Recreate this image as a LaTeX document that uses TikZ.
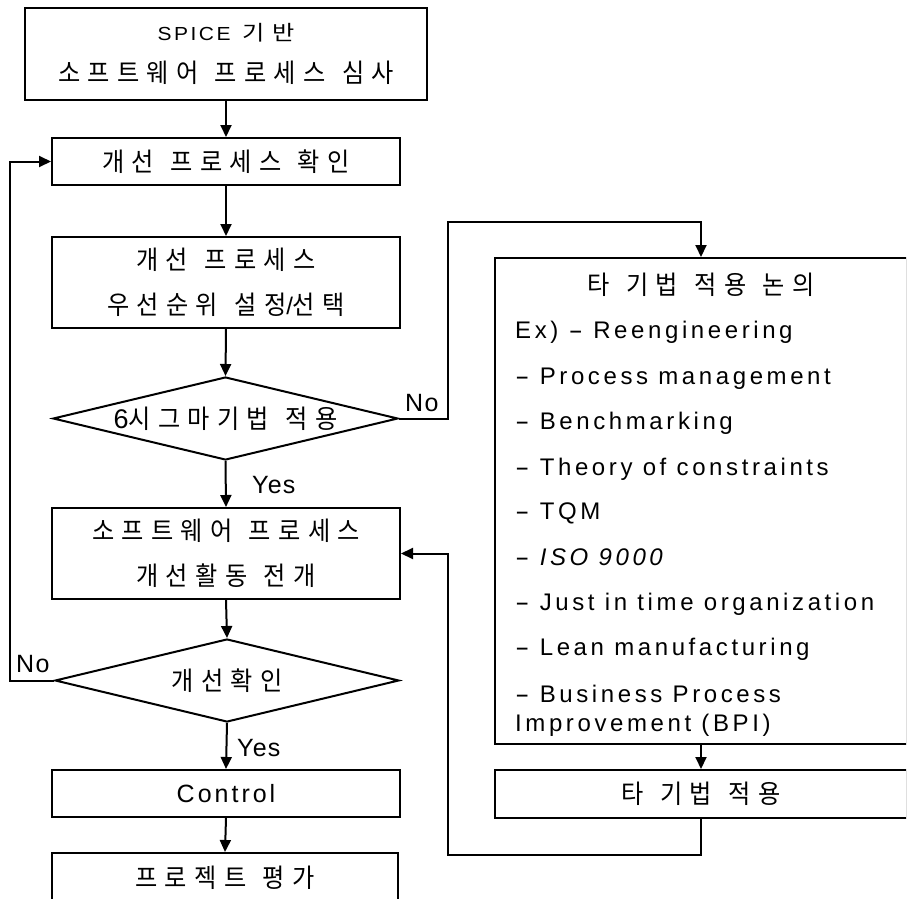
\documentclass[tikz,border=0pt]{standalone}
\usepackage{fontspec}
\usepackage{graphicx}
\usetikzlibrary{shapes.geometric,arrows.meta}
\setmainfont{Liberation Sans}[LetterSpace=12]
\newfontfamily\kor{Noto Sans CJK KR}[LetterSpace=28,FakeStretch=0.93,WordSpace=1.3]
\newfontfamily\latf{Liberation Sans}[LetterSpace=12]
\newfontfamily\latw{Liberation Sans}[LetterSpace=15]
\newfontfamily\labf{Liberation Sans}[LetterSpace=5]
\newcommand\dsh{\scalebox{1.8}[1]{-}}
\tikzset{
 ln/.style={line width=2pt},
 arr/.style={ln, -{Triangle[length=12pt,width=11pt]}},
 box/.style={draw, ln, rectangle, inner sep=0pt, align=center, font=\kor\fontsize{26}{45}\selectfont},
 dia/.style={draw, ln, diamond, shape aspect=4.16, inner sep=0pt, font=\kor\fontsize{26}{27}\selectfont},
 lab/.style={inner sep=0pt, font=\labf\fontsize{25}{25}\selectfont},
 lst/.style={inner sep=0pt, anchor=base west, font=\latw\fontsize{24}{24}\selectfont},
 ktxt/.style={inner sep=0pt, font=\kor\fontsize{26}{27}\selectfont},
}
\begin{document}
\begin{tikzpicture}[x=1pt,y=-1pt]
\useasboundingbox[fill=white] (0,0) rectangle (908,899);
\clip (0,0) rectangle (906,899);
% left column
\node[box, minimum width=402pt, minimum height=92pt] (b1) at (226,54)
  {{\latf\fontsize{21}{21}\selectfont\scalebox{1}[0.9]{SPICE}}\hspace{12pt}\scalebox{1}[0.8]{기반}\\[-3pt]소프트웨어 프로세스 심사};
\node[box, minimum width=348pt, minimum height=47pt] (b2) at (226,161.5) {개선 프로세스 확인};
\node[box, minimum width=348pt, minimum height=91pt] (b3) at (226,282.5)
  {개선 프로세스\\우선순위 설정{\latf\fontsize{24}{24}\selectfont /}선택};
\node[dia, minimum width=345pt, minimum height=83pt] (d1) at (225.5,418.5)
  {{\latf\fontsize{27}{27}\selectfont 6}시그마기법 적용};
\node[box, minimum width=348pt, minimum height=91pt] (b6) at (226,553.5)
  {소프트웨어 프로세스\\개선활동 전개};
\node[dia, minimum width=344pt, minimum height=83pt] (d2) at (227,680.5) {개선확인};
\node[box, minimum width=348pt, minimum height=47pt, font=\latf\fontsize{25}{25}\selectfont] (b7) at (226,793.5) {Control};
\node[box, minimum width=346pt, minimum height=50pt] (b8) at (225,878) {프로젝트 평가};
% right column
\node[box, minimum width=412pt, minimum height=486pt] (b4) at (701,501) {};
\node[ktxt] (t0) at (701,285) {타 기법 적용 논의};
\node[lst] (t1) at (515,338) {Ex) \dsh{} Reengineering};
\node[lst] (t2) at (515,384) {\dsh{} Process management};
\node[lst] (t3) at (515,429) {\dsh{} Benchmarking};
\node[lst] (t4) at (515,475) {\dsh{} Theory of constraints};
\node[lst] (t5) at (515,519) {\dsh{} TQM};
\node[lst] (t6) at (515,565) {\dsh{} {\itshape ISO 9000}};
\node[lst] (t7) at (515,610) {\dsh{} Just in time organization};
\node[lst] (t8) at (515,655) {\dsh{} Lean manufacturing};
\node[lst] (t9) at (515,702) {\dsh{} Business Process};
\node[lst] (t10) at (515,731) {Improvement (BPI)};
\node[box, minimum width=412pt, minimum height=48pt] (b5) at (701,794) {타 기법 적용};
% labels
\node[lab, anchor=base west] (no1) at (405,411) {No};
\node[lab, anchor=base west] (yes1) at (252,493) {Yes};
\node[lab, anchor=base west] (no2) at (16,672) {No};
\node[lab, anchor=base west] (yes2) at (237,756) {Yes};
% connectors
\coordinate (lx) at (10,0);
\coordinate (n1) at (448,222);
\coordinate (n2) at (448,855);
\draw[arr] (b1.south) -- (b2.north);
\draw[arr] (b2.south) -- (b3.north);
\draw[arr] (b3.south) -- (d1.north);
\draw[arr] (d1.south) -- (b6.north);
\draw[arr] (b6.south) -- (d2.north);
\draw[arr] (d2.south) -- (b7.north);
\draw[arr] (b7.south) -- (b8.north);
\draw[arr] (d2.west) -- (d2.west -| lx) |- (b2.west);
\draw[arr] (d1.east) -| (n1) -| (b4.north);
\draw[arr] (b4.south) -- (b5.north);
\draw[arr] (b5.south) |- (n2) |- (b6.east);
\end{tikzpicture}
\end{document}
